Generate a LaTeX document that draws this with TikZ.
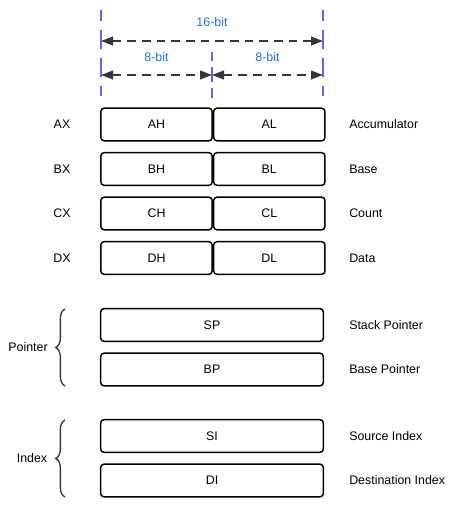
\documentclass[tikz,border=0pt]{standalone}
\usepackage{fontspec}
\setmainfont{Liberation Sans}
\usepackage{xcolor}
\usetikzlibrary{arrows.meta,positioning,decorations.pathreplacing}

\definecolor{bitblue}{RGB}{26,115,232}
\definecolor{guideblue}{RGB}{100,100,250}
\definecolor{arrowgray}{RGB}{51,55,60}

\tikzset{
  every node/.style={font=\fontsize{9.3}{11}\selectfont},
  halfreg/.style={draw, line width=1.1pt, rounded corners=2.5pt, minimum width=83.5pt, minimum height=24.5pt, inner sep=0pt},
  fullreg/.style={draw, line width=1.1pt, rounded corners=2.5pt, minimum width=167pt, minimum height=24.5pt, inner sep=0pt},
  guide/.style={draw=guideblue, line width=1.1pt, dash pattern=on 8.25pt off 6.75pt on 14.25pt off 6.75pt on 14.25pt off 6.75pt on 7.5pt off 20pt},
  midguide/.style={draw=guideblue, line width=1.1pt, dash pattern=on 6.75pt off 4.5pt on 11.25pt off 4.5pt on 7.5pt off 20pt},
  bitarrow/.style={draw=arrowgray, line width=1.4pt, dash pattern=on 6.5pt off 4.5pt, {Triangle[length=9pt,width=6.5pt]}-{Triangle[length=9pt,width=6.5pt]}},
  bitlabel/.style={text=bitblue, inner sep=0.75pt},
  regname/.style={inner sep=0.75pt},
  regdesc/.style={anchor=west, inner sep=0.75pt},
  grpbrace/.style={draw=arrowgray, line width=1pt, decorate, decoration={brace, amplitude=7pt}}
}

\begin{document}
\begin{tikzpicture}[x=0.75pt,y=0.75pt,yscale=-1,xscale=1]
\useasboundingbox (0,0) rectangle (457,505);

%Guide Lines
\coordinate (gl1) at (101,10);
\coordinate (gl2) at (101,97);
\coordinate (gm1) at (212,52);
\coordinate (gm2) at (212,98);
\coordinate (gr1) at (323,10);
\coordinate (gr2) at (323,97);
\draw [guide] (gl1) -- (gl2) ;
\draw [midguide] (gm1) -- (gm2) ;
\draw [guide] (gr1) -- (gr2) ;

%Width Arrows
\coordinate (w16l) at (101,41);
\coordinate (w16r) at (323,41);
\coordinate (w8l) at (101,75);
\coordinate (w8m) at (212,75);
\coordinate (w8r) at (323,75);
\draw [bitarrow] (w16l) -- (w16r) ;
\draw [bitarrow] (w8l) -- (w8m) ;
\draw [bitarrow] (w8m) -- (w8r) ;

% Text Node
\node [bitlabel] (b16) at (212,22) {16-bit};
\node [bitlabel] (b8h) at (156.5,57) {8-bit};
\node [bitlabel] (b8l) at (267.5,57) {8-bit};

%General Registers
\node [halfreg] (ah) at (156.5,124.5) {AH};
\node [halfreg, right=0pt of ah] (al) {AL};
\node [halfreg] (bh) at (156.5,169) {BH};
\node [halfreg, right=0pt of bh] (bl) {BL};
\node [halfreg] (ch) at (156.5,213.5) {CH};
\node [halfreg, right=0pt of ch] (cl) {CL};
\node [halfreg] (dh) at (156.5,258) {DH};
\node [halfreg, right=0pt of dh] (dl) {DL};

%Pointer and Index Registers
\node [fullreg] (sp) at (212,325) {SP};
\node [fullreg] (bp) at (212,369.5) {BP};
\node [fullreg] (si) at (212,436) {SI};
\node [fullreg] (di) at (212,480.5) {DI};

% Text Node
\node [regname] (ax) at (62,124.5) {AX};
\node [regname] (bx) at (62,169) {BX};
\node [regname] (cx) at (62,213.5) {CX};
\node [regname] (dx) at (62,258) {DX};

% Text Node
\node [regdesc] (acc) at (348,124.5) {Accumulator};
\node [regdesc] (base) at (348,169) {Base};
\node [regdesc] (count) at (348,213.5) {Count};
\node [regdesc] (data) at (348,258) {Data};
\node [regdesc] (spd) at (348,325) {Stack Pointer};
\node [regdesc] (bpd) at (348,369.5) {Base Pointer};
\node [regdesc] (sid) at (348,436) {Source Index};
\node [regdesc] (did) at (348,480.5) {Destination Index};

%Braces
\coordinate (pbt) at (65,309);
\coordinate (pbb) at (65,386);
\coordinate (ibt) at (65,420);
\coordinate (ibb) at (65,497);
\draw [grpbrace] (pbb) -- (pbt) ;
\draw [grpbrace] (ibb) -- (ibt) ;
\node [regname] (ptr) at (28,347.5) {Pointer};
\node [regname] (idx) at (32,458.5) {Index};
\end{tikzpicture}
\end{document}
